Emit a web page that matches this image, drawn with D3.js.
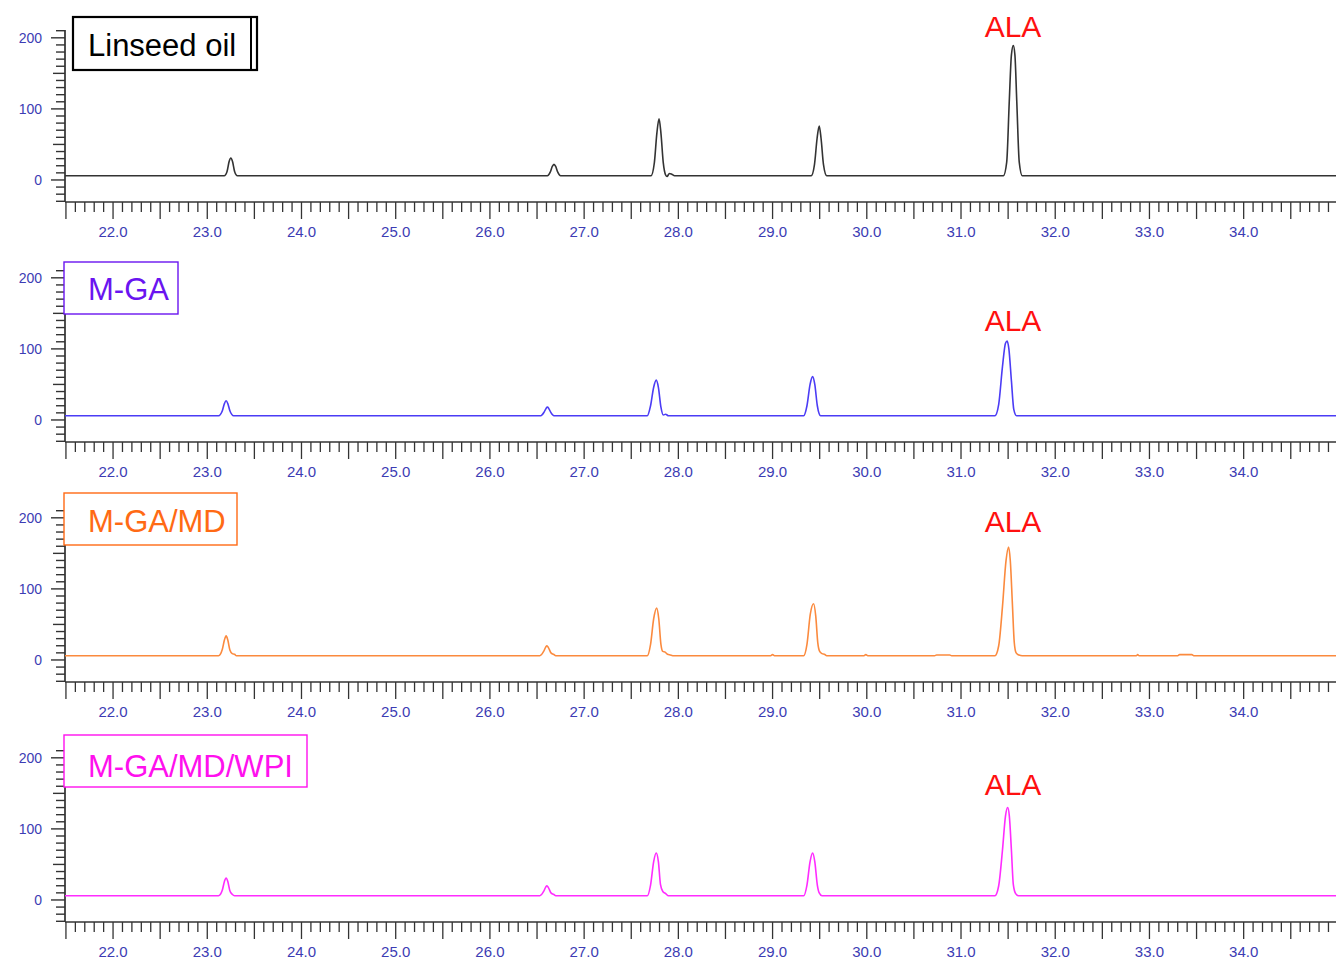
<!DOCTYPE html>
<html><head><meta charset="utf-8">
<script src="https://cdn.jsdelivr.net/npm/d3@7"></script>
<style>html,body{margin:0;padding:0;background:#fff;}svg{display:block;}</style>
</head><body>
<svg id="chart" width="1336" height="960"></svg>
<script>
// ---- data ----
const panelNames = ["Linseed oil", "M-GA", "M-GA/MD", "M-GA/MD/WPI"];
const xTickLabels = ["22.0","23.0","24.0","25.0","26.0","27.0","28.0","29.0","30.0","31.0","32.0","33.0","34.0"];
const yTickLabels = ["0","100","200"];
const peakLabel = "ALA";

// retention time (min), signal (pA)
const linseed = [
  [21.49,6],
  [23.18,6],[23.21,12],[23.232,26],[23.25,31],[23.268,26],[23.29,12],[23.32,6],
  [26.61,6],[26.64,11],[26.662,19],[26.68,22],[26.698,19],[26.72,11],[26.75,6],
  [27.71,6],[27.745,24],[27.772,66],[27.795,86],[27.815,66],[27.84,24],[27.865,7],[27.88,5],[27.905,9],[27.93,8],[27.96,6],
  [29.41,6],[29.445,22],[29.472,58],[29.495,76],[29.515,58],[29.54,22],[29.575,6],
  [31.45,6],[31.485,25],[31.512,110],[31.535,176],[31.555,189],[31.572,176],[31.592,110],[31.618,25],[31.65,6],
  [34.98,6]
];
const mga = [
  [21.49,6],
  [23.12,6],[23.16,13],[23.182,23],[23.20,27],[23.218,23],[23.24,13],[23.28,6],
  [26.54,6],[26.575,11],[26.595,16],[26.61,18],[26.625,16],[26.645,11],[26.68,6],
  [27.67,6],[27.705,20],[27.738,46],[27.765,56],[27.788,46],[27.815,18],[27.84,7],[27.865,8],[27.895,6],
  [29.33,6],[29.365,20],[29.398,50],[29.425,61],[29.448,50],[29.475,20],[29.51,6],
  [31.36,6],[31.40,22],[31.44,75],[31.472,108],[31.49,111],[31.508,100],[31.535,55],[31.56,15],[31.59,6],
  [34.98,6]
];
const mgaMd = [
  [21.49,6],
  [23.12,6],[23.16,15],[23.182,28],[23.20,34],[23.218,28],[23.24,14],[23.265,9],[23.29,8],[23.31,6],
  [26.53,6],[26.57,12],[26.592,18],[26.605,20],[26.622,17],[26.648,10],[26.675,8],[26.70,6],
  [27.67,6],[27.705,22],[27.738,58],[27.77,73],[27.792,58],[27.815,22],[27.835,12],[27.86,11],[27.885,8],[27.915,7],[27.94,6],
  [28.98,6],[29.0,7.5],[29.02,6],
  [29.33,6],[29.365,22],[29.40,64],[29.435,79],[29.458,62],[29.48,24],[29.50,12],[29.525,9],[29.55,8],[29.575,6],
  [29.97,6],[29.99,7.5],[30.01,6],
  [30.72,6],[30.74,7],[30.88,7],[30.90,6],
  [31.36,6],[31.40,20],[31.44,75],[31.478,140],[31.505,159],[31.523,140],[31.545,80],[31.565,25],[31.585,10],[31.615,7],[31.65,6],
  [32.86,6],[32.875,7.5],[32.89,6],
  [33.30,6],[33.32,7.5],[33.45,7.5],[33.47,6],
  [34.98,6]
];
const mgaMdWpi = [
  [21.49,6],
  [23.12,6],[23.16,14],[23.182,26],[23.20,31],[23.218,26],[23.24,13],[23.265,8],[23.29,6],
  [26.53,6],[26.57,12],[26.592,18],[26.605,20],[26.622,17],[26.648,10],[26.675,8],[26.70,6],
  [27.67,6],[27.705,21],[27.738,54],[27.765,66],[27.788,54],[27.81,22],[27.835,12],[27.865,9],[27.895,6],
  [29.33,6],[29.365,21],[29.398,54],[29.425,66],[29.448,54],[29.475,21],[29.495,10],[29.525,6],
  [31.36,6],[31.40,20],[31.44,70],[31.472,118],[31.495,130],[31.513,118],[31.535,70],[31.555,22],[31.58,9],[31.61,6],
  [34.98,6]
];
const series = [linseed, mga, mgaMd, mgaMdWpi];
const traceColors = ["#333333", "#4b3cf5", "#fb8a3e", "#ff2cff"];
const labelColors = ["#000000", "#6a14f0", "#ff6a14", "#ff10ee"];

// ---- layout ----
const svg = d3.select("#chart");
const xLeft = 65, xRight = 1336;
const x = d3.scaleLinear().domain([21.49, 34.98]).range([xLeft, xRight]);
const panelStep = 240;
const axisBlue = "#3c3cb4";
const fontFam = "'Liberation Sans', Arial, sans-serif";

series.forEach((data, k) => {
  const off = panelStep * k;
  const y = d3.scaleLinear().domain([-31, 211]).range([202 + off, 30 + off]);
  const g = svg.append("g");

  // y axis line
  g.append("line").attr("x1", xLeft).attr("x2", xLeft)
    .attr("y1", y(211)).attr("y2", y(-31))
    .attr("stroke", "#222").attr("stroke-width", 1.6);
  // y ticks
  d3.range(-30, 211, 10).forEach(v => {
    const major = v % 100 === 0;
    const mid = v % 50 === 0;
    const len = major ? 14 : (mid ? 12 : 9);
    g.append("line").attr("x1", xLeft - len).attr("x2", xLeft)
      .attr("y1", y(v)).attr("y2", y(v))
      .attr("stroke", "#333").attr("stroke-width", 1.4);
  });
  yTickLabels.forEach(s => {
    g.append("text").attr("x", 42).attr("y", y(+s) + 5)
      .attr("text-anchor", "end").attr("font-family", fontFam)
      .attr("font-size", 14).attr("fill", axisBlue).text(s);
  });

  // x axis
  const xa = 202 + off;
  g.append("line").attr("x1", xLeft).attr("x2", xRight)
    .attr("y1", xa).attr("y2", xa).attr("stroke", "#333").attr("stroke-width", 1.6);
  const xt = d3.range(215, 3499, 1).map(v => v / 10).filter(v => v >= 21.5 && v <= 34.95);
  xt.forEach(v => {
    const major = Math.round(v * 10) % 5 === 0;
    g.append("line").attr("x1", x(v)).attr("x2", x(v))
      .attr("y1", xa).attr("y2", xa + (major ? 17 : 10))
      .attr("stroke", "#333").attr("stroke-width", 1.3);
  });
  xTickLabels.forEach(s => {
    g.append("text").attr("x", x(+s)).attr("y", xa + 35)
      .attr("text-anchor", "middle").attr("font-family", fontFam)
      .attr("font-size", 15).attr("fill", axisBlue).text(s);
  });

  // trace
  const line = d3.line().x(d => x(d[0])).y(d => y(d[1])).curve(d3.curveMonotoneX);
  g.append("path").datum(data).attr("d", line)
    .attr("fill", "none").attr("stroke", traceColors[k]).attr("stroke-width", 1.6);

  // ALA label
  g.append("text").attr("x", 1013).attr("y", [37, 331, 532, 795][k])
    .attr("text-anchor", "middle").attr("font-family", fontFam)
    .attr("font-size", 30).attr("fill", "#ff1010").text(peakLabel);
});

// name boxes
const boxes = [
  {x: 73, y: 17, w: 184, h: 53, tx: 88, ty: 56},
  {x: 64, y: 262, w: 114, h: 52, tx: 88, ty: 300},
  {x: 64, y: 493, w: 173, h: 52, tx: 88, ty: 532},
  {x: 64, y: 735, w: 243, h: 52, tx: 88, ty: 777}
];
boxes.forEach((b, k) => {
  svg.append("rect").attr("x", b.x).attr("y", b.y).attr("width", b.w).attr("height", b.h)
    .attr("fill", "#fff").attr("stroke", k === 0 ? "#000" : labelColors[k])
    .attr("stroke-width", k === 0 ? 2.2 : 1.4);
  if (k === 0) {
    svg.append("line").attr("x1", b.x + b.w - 6).attr("x2", b.x + b.w - 6)
      .attr("y1", b.y).attr("y2", b.y + b.h).attr("stroke", "#000").attr("stroke-width", 2);
  }
  svg.append("text").attr("x", b.tx).attr("y", b.ty)
    .attr("font-family", fontFam).attr("font-size", 31)
    .attr("fill", labelColors[k]).text(panelNames[k]);
});
</script>
</body></html>
